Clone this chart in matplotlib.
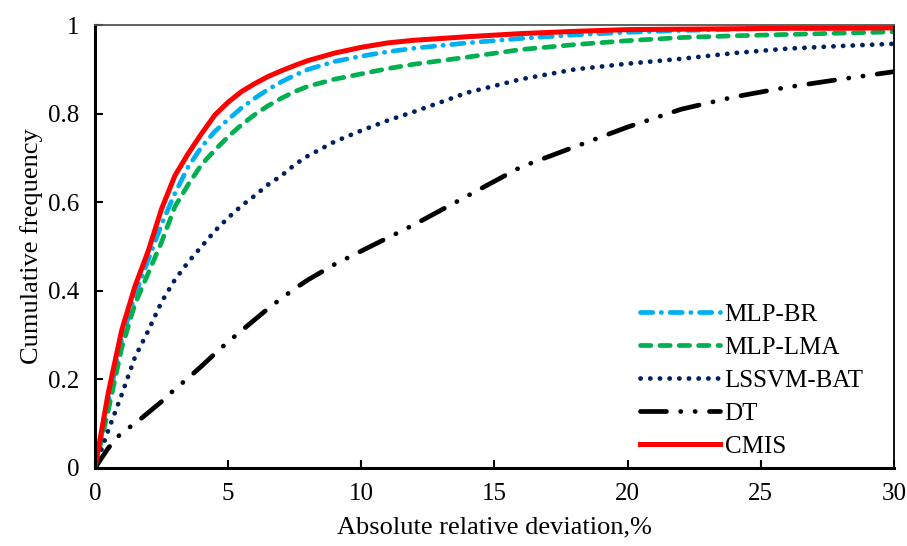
import matplotlib
matplotlib.use('Agg')
import matplotlib.pyplot as plt
from matplotlib.ticker import FuncFormatter

# absolute relative deviation (%) grid
ard = [0, 0.5, 1, 1.5, 2, 2.5, 3, 3.5, 4, 4.5, 5, 5.5, 6, 6.5, 7, 7.5, 8,
       9, 10, 11, 12, 14, 16, 18, 20, 22, 24, 26, 28, 30]

# cumulative frequency
mlp_br = [0, 0.15, 0.29, 0.39, 0.47, 0.55, 0.62, 0.68, 0.725, 0.76, 0.787,
          0.813, 0.835, 0.855, 0.872, 0.887, 0.9, 0.918, 0.93, 0.94, 0.948,
          0.96, 0.97, 0.978, 0.984, 0.988, 0.991, 0.993, 0.994, 0.995]
mlp_lma = [0, 0.13, 0.27, 0.37, 0.44, 0.51, 0.59, 0.64, 0.685, 0.718, 0.748,
           0.775, 0.798, 0.818, 0.835, 0.85, 0.862, 0.878, 0.89, 0.902, 0.912,
           0.928, 0.945, 0.956, 0.965, 0.972, 0.976, 0.979, 0.982, 0.985]
lssvm_bat = [0, 0.085, 0.165, 0.25, 0.31, 0.375, 0.425, 0.465, 0.5, 0.535,
             0.565, 0.592, 0.615, 0.64, 0.66, 0.685, 0.705, 0.737, 0.762,
             0.785, 0.805, 0.848, 0.878, 0.9, 0.913, 0.924, 0.937, 0.947,
             0.953, 0.958]
dt = [0, 0.045, 0.08, 0.1, 0.125, 0.15, 0.178, 0.203, 0.23, 0.258, 0.285,
      0.31, 0.335, 0.36, 0.383, 0.405, 0.425, 0.46, 0.49, 0.52, 0.55,
      0.615, 0.68, 0.725, 0.77, 0.81, 0.838, 0.86, 0.878, 0.895]
cmis = [0, 0.17, 0.31, 0.41, 0.49, 0.585, 0.66, 0.71, 0.755, 0.797, 0.826,
        0.85, 0.868, 0.884, 0.897, 0.909, 0.92, 0.937, 0.95, 0.96, 0.966,
        0.974, 0.981, 0.986, 0.99, 0.991, 0.992, 0.993, 0.993, 0.994]

plt.rcParams['font.family'] = ['Liberation Serif', 'DejaVu Serif']

fig = plt.figure(figsize=(9.07, 5.46), dpi=100)
ax = fig.add_axes([0.1047, 0.1429, 0.881, 0.811])

lw = 3.4
ax.plot(ard, mlp_br, color='#00B0F0', lw=lw, dashes=(2.6, 1.8, 0.05, 1.8),
        dash_capstyle='round', label='MLP-BR')
ax.plot(ard, mlp_lma, color='#00B050', lw=lw, dashes=(2.2, 1.9),
        dash_capstyle='round', label='MLP-LMA')
ax.plot(ard, lssvm_bat, color='#002060', lw=3.4, dashes=(0.05, 2.0),
        dash_capstyle='round', label='LSSVM-BAT')
ax.plot(ard, dt, color='black', lw=lw, dashes=(5.5, 3, 0.05, 3, 0.05, 3),
        dash_capstyle='round', label='DT')
ax.plot(ard, cmis, color='#FF0000', lw=3.6, label='CMIS')

ax.set_xlim(0, 30)
ax.set_ylim(0, 1)
ax.set_xticks([0, 5, 10, 15, 20, 25, 30])
ax.set_yticks([0, 0.2, 0.4, 0.6, 0.8, 1])
ax.yaxis.set_major_formatter(FuncFormatter(lambda v, p: '%g' % v))
ax.tick_params(direction='in', length=6, width=1.5, labelsize=18,
               pad=11, top=False, right=False)

for s in ['left', 'bottom']:
    ax.spines[s].set_linewidth(2.2)
for s in ['top', 'right']:
    ax.spines[s].set_linewidth(1.3)
ax.spines['top'].set_color('#555555')

ax.set_xlabel('Absolute relative deviation,%', fontsize=19, labelpad=8)
ax.set_ylabel('Cumulative frequency', fontsize=19, labelpad=4)

ax.legend(loc='lower right', frameon=False, fontsize=18, handlelength=3.2,
          handletextpad=0.2, labelspacing=0.42, bbox_to_anchor=(0.99, -0.028))

fig.savefig('out.png', dpi=100)
